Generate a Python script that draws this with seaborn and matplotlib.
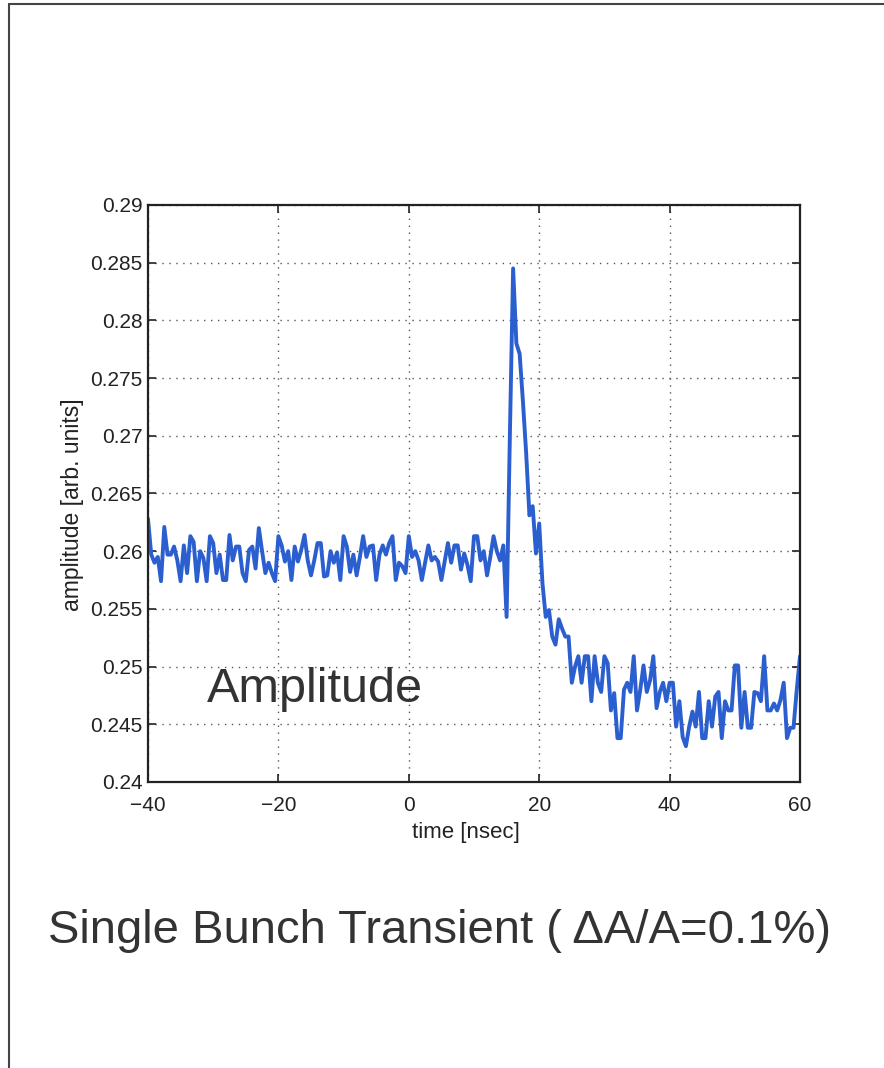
import numpy as np
import pandas as pd
import matplotlib
matplotlib.use("Agg")
import matplotlib.pyplot as plt
from matplotlib.lines import Line2D
import seaborn as sns

# sampled amplitude, 0.5 ns steps from -40 ns
pre_trigger_a = [
    0.2628, 0.2597, 0.2590, 0.2595, 0.2574, 0.2621, 0.2597, 0.2597, 0.2604, 0.2592,
    0.2574, 0.2605, 0.2581, 0.2613, 0.2608, 0.2574, 0.2600, 0.2594, 0.2574, 0.2613,
    0.2607, 0.2581, 0.2597, 0.2575, 0.2575, 0.2614, 0.2592, 0.2604, 0.2604, 0.2581,
    0.2574, 0.2601, 0.2604, 0.2585, 0.2620, 0.2600, 0.2581, 0.2590, 0.2581, 0.2574,
]
pre_trigger_b = [
    0.2613, 0.2605, 0.2591, 0.2600, 0.2575, 0.2604, 0.2591, 0.2601, 0.2614, 0.2592,
    0.2579, 0.2592, 0.2607, 0.2607, 0.2578, 0.2579, 0.2600, 0.2590, 0.2599, 0.2575,
]
pre_trigger_c = [
    0.2613, 0.2604, 0.2582, 0.2597, 0.2579, 0.2595, 0.2613, 0.2595, 0.2604, 0.2605,
    0.2575, 0.2597, 0.2605, 0.2597, 0.2607, 0.2613, 0.2575, 0.2590, 0.2587, 0.2581,
    0.2613, 0.2595, 0.2600, 0.2592, 0.2575, 0.2590, 0.2605, 0.2592, 0.2595, 0.2591,
    0.2575, 0.2591, 0.2607, 0.2590, 0.2605, 0.2605, 0.2584, 0.2598, 0.2588, 0.2574,
    0.2613, 0.2613, 0.2592, 0.2600, 0.2579, 0.2595, 0.2613, 0.2600, 0.2592, 0.2605,
]
transient = [
    0.2543, 0.2700, 0.2845, 0.2780, 0.2771, 0.2730, 0.2685, 0.2631, 0.2639, 0.2598,
    0.2624, 0.2572, 0.2543, 0.2549, 0.2526, 0.2519, 0.2541, 0.2533, 0.2526, 0.2526,
    0.2486,
]
post_trigger = [
    0.2500, 0.2509, 0.2486, 0.2509, 0.2509, 0.2470, 0.2509, 0.2486, 0.2478, 0.2509,
    0.2503, 0.2462, 0.2477, 0.2438, 0.2438, 0.2480, 0.2486, 0.2478, 0.2509, 0.2462,
    0.2480, 0.2501, 0.2478, 0.2488, 0.2509, 0.2464, 0.2478, 0.2486, 0.2470, 0.2486,
    0.2486, 0.2448, 0.2470, 0.2439, 0.2431, 0.2448, 0.2461, 0.2448, 0.2478, 0.2438,
    0.2438, 0.2470, 0.2448, 0.2474, 0.2478, 0.2438, 0.2470, 0.2462, 0.2462, 0.2501,
    0.2501, 0.2447, 0.2478, 0.2447, 0.2447, 0.2478, 0.2477, 0.2470, 0.2509, 0.2462,
    0.2462, 0.2468, 0.2462, 0.2471, 0.2486, 0.2438, 0.2447, 0.2447, 0.2480, 0.2509,
]

amplitude = pre_trigger_a + pre_trigger_b + pre_trigger_c + transient + post_trigger
time_ns = -40 + 0.5 * np.arange(len(amplitude))

x_ticks = [-40, -20, 0, 20, 40, 60]
y_ticks = [0.24, 0.245, 0.25, 0.255, 0.26, 0.265, 0.27, 0.275, 0.28, 0.285, 0.29]
y_labels = ["0.24", "0.245", "0.25", "0.255", "0.26", "0.265", "0.27",
            "0.275", "0.28", "0.285", "0.29"]

df = pd.DataFrame({"time": time_ns, "amplitude": amplitude})

sns.set_theme(style="ticks")
plt.rcParams["font.family"] = ["Liberation Sans", "DejaVu Sans"]

fig = plt.figure(figsize=(8.84, 10.68), dpi=100)
ax = fig.add_axes([0.1674, 0.2678, 0.7376, 0.5403])

sns.lineplot(data=df, x="time", y="amplitude", ax=ax, color="#2b5fcf",
             linewidth=2.8, estimator=None, sort=False)

ax.set_xlim(-40, 60)
ax.set_ylim(0.24, 0.29)
ax.set_xticks(x_ticks)
ax.set_yticks(y_ticks)
ax.set_yticklabels(y_labels)
ax.grid(True, color="#555555", linestyle=(0, (1, 4)), linewidth=1.0)
ax.tick_params(direction="in", length=6, width=1.2, top=True, right=True,
               labelsize=15, colors="#222222")
ax.tick_params(axis="x", pad=10)
ax.tick_params(axis="y", pad=4)
for s in ax.spines.values():
    s.set_linewidth(1.6)
    s.set_color("#222222")

ax.set_xlabel("time [nsec]", fontsize=16, color="#222222")
ax.xaxis.set_label_coords(0.487, -0.07)
ax.set_ylabel("amplitude [arb. units]", fontsize=16.5, color="#222222")
ax.yaxis.set_label_coords(-0.098, 0.48)

ax.text(-31, 0.2480, "Amplitude", fontsize=35, color="#333333", va="center")

fig.text(0.497, 0.128, "Single Bunch Transient ( \u0394A/A=0.1%)",
         fontsize=34, color="#333333", ha="center", va="center")

# page frame of the scanned slide
fig.add_artist(Line2D([0.010, 0.010], [0.0, 0.996], transform=fig.transFigure,
                      color="#444444", linewidth=1.5))
fig.add_artist(Line2D([0.010, 1.0], [0.996, 0.996], transform=fig.transFigure,
                      color="#444444", linewidth=1.5))

fig.savefig("out.png", dpi=100, facecolor="white")
